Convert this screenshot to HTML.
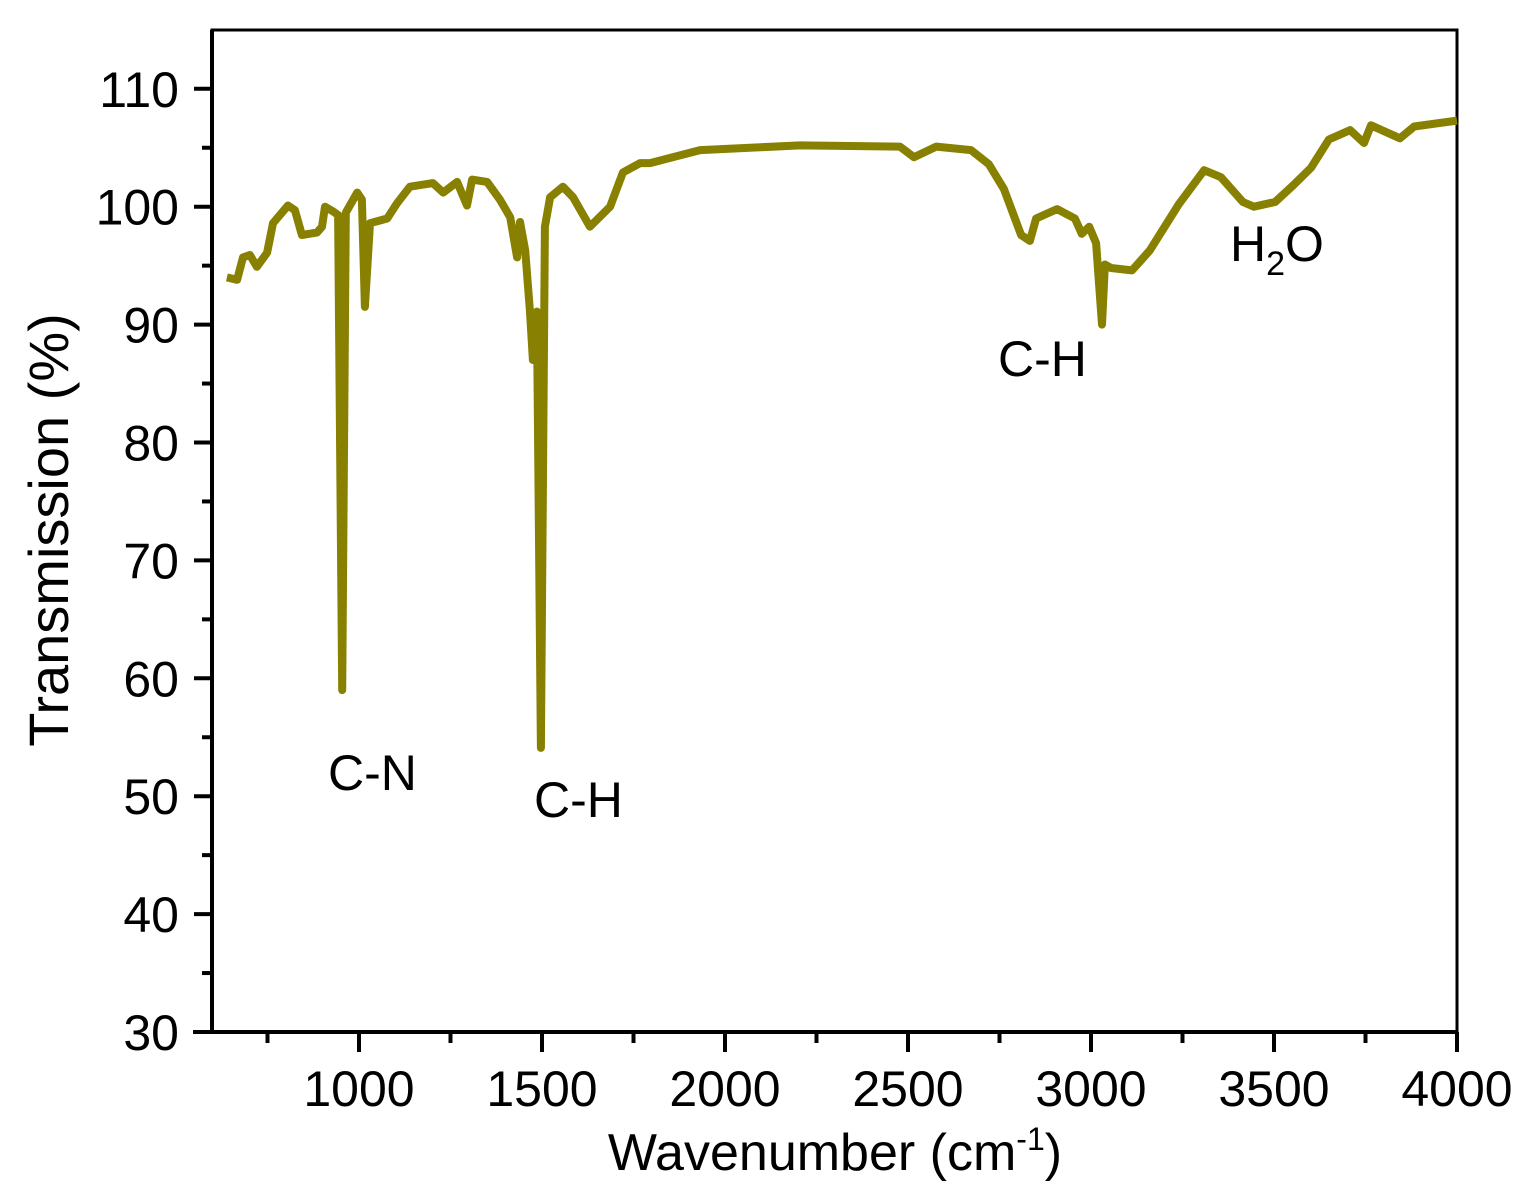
<!DOCTYPE html>
<html><head><meta charset="utf-8"><style>
html,body{margin:0;padding:0;background:#fff;}
svg{display:block;font-family:"Liberation Sans",Arial,sans-serif;}
</style></head><body>
<svg id="chart" width="1525" height="1201" viewBox="0 0 1525 1201" xmlns="http://www.w3.org/2000/svg">
<rect x="0" y="0" width="1525" height="1201" fill="#fff"/>
<g id="axes"></g>
<path id="spectrum" fill="none" stroke="#878000" stroke-width="8" stroke-linejoin="round"/>
<text x="835" y="1170" font-size="52" text-anchor="middle">Wavenumber (cm<tspan font-size="32" dy="-20">-1</tspan><tspan dy="20">)</tspan></text>
<text transform="translate(68,530) rotate(-90)" font-size="56" text-anchor="middle">Transmission (%)</text>
<text x="328" y="790" font-size="50">C-N</text>
<text x="534" y="817" font-size="50">C-H</text>
<text x="998" y="376" font-size="50">C-H</text>
<text x="1230" y="261" font-size="50">H<tspan font-size="34" dy="14">2</tspan><tspan dy="-14">O</tspan></text>
</svg>
<script>
const wavenumbers = [639,667,683,702,721,749,765,806,825,844,885,899,907,929,943,954,964,995,1008,1016,1030,1077,1104,1139,1202,1230,1268,1295,1309,1350,1385,1413,1432,1440,1454,1467,1475,1486,1497,1508,1522,1557,1585,1631,1686,1721,1768,1795,1932,2205,2478,2516,2577,2672,2721,2762,2809,2833,2850,2907,2956,2975,2995,3014,3030,3038,3055,3112,3161,3240,3309,3355,3415,3445,3503,3552,3601,3650,3708,3746,3765,3844,3883,4000];
const transmission = [94.0,93.8,95.7,95.9,94.9,96.1,98.6,100.1,99.7,97.6,97.8,98.3,100.0,99.6,99.3,59.0,99.5,101.2,100.6,91.5,98.6,99.0,100.3,101.7,102.0,101.2,102.1,100.1,102.3,102.1,100.6,99.1,95.7,98.7,96.3,91.2,87.0,91.1,54.1,98.3,100.8,101.7,100.8,98.3,100.0,102.9,103.7,103.7,104.8,105.2,105.1,104.2,105.1,104.8,103.6,101.5,97.6,97.1,99.0,99.8,99.0,97.7,98.3,96.9,90.0,95.1,94.8,94.6,96.3,100.2,103.1,102.5,100.4,100.0,100.4,101.8,103.3,105.7,106.5,105.4,106.9,105.8,106.8,107.3];
const xTicks = [1000,1500,2000,2500,3000,3500,4000];
const xMinor = [750,1250,1750,2250,2750,3250,3750];
const yTicks = [30,40,50,60,70,80,90,100,110];
const yMinor = [35,45,55,65,75,85,95,105];

const L=212,R=1457,T=30,B=1032;
const xs = v => 359 + (v-1000)*0.366;
const ys = v => B - (v-30)*11.79;
const NS="http://www.w3.org/2000/svg";
const axes=document.getElementById('axes');
function mk(tag,attrs,parent){const e=document.createElementNS(NS,tag);for(const k in attrs)e.setAttribute(k,attrs[k]);parent.appendChild(e);return e;}

const frame=mk('rect',{x:L,y:T,width:R-L,height:B-T,fill:'none',stroke:'#000','stroke-width':3},axes);


const xl=mk('line',{x1:193,y1:B,x2:R,y2:B,stroke:'#000','stroke-width':4},axes);


const yl=mk('line',{x1:L,y1:T,x2:L,y2:B,stroke:'#000','stroke-width':4},axes);



xTicks.forEach(v=>{
  const t=mk('line',{x1:xs(v),y1:B,x2:xs(v),y2:B+20,stroke:'#000','stroke-width':4},axes);
  
  
  const tx=mk('text',{x:xs(v),y:1106,'font-size':50,'text-anchor':'middle'},axes);
  tx.textContent=v;
  
  
});
xMinor.forEach(v=>{
  const t=mk('line',{x1:xs(v),y1:B,x2:xs(v),y2:B+11,stroke:'#000','stroke-width':4},axes);
  
  
});
yTicks.forEach(v=>{
  const t=mk('line',{x1:L-18,y1:ys(v),x2:L,y2:ys(v),stroke:'#000','stroke-width':4},axes);
  
  
  const tx=mk('text',{x:179,y:ys(v)+18,'font-size':50,'text-anchor':'end'},axes);
  tx.textContent=v;
  
  
});
yMinor.forEach(v=>{
  const t=mk('line',{x1:L-10,y1:ys(v),x2:L,y2:ys(v),stroke:'#000','stroke-width':4},axes);
  
  
});

let d='';
wavenumbers.forEach((v,i)=>{d+=(i?'L':'M')+xs(v).toFixed(1)+','+ys(transmission[i]).toFixed(1);});
document.getElementById('spectrum').setAttribute('d',d);
</script>
</body></html>
